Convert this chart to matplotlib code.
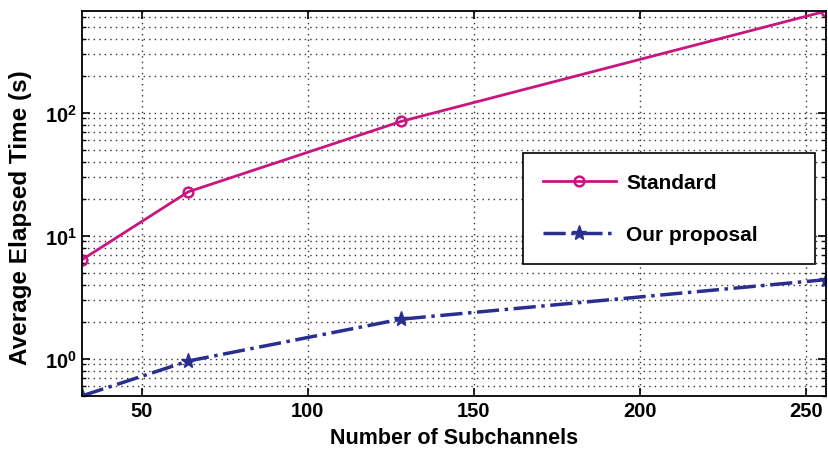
import numpy as np
import matplotlib
matplotlib.use('Agg')
import matplotlib.pyplot as plt
from matplotlib.ticker import LogLocator, NullFormatter

# data
subchannels = [32, 64, 128, 256]
standard = [6.4, 22.8, 85.0, 670.0]
proposal = [0.5, 0.96, 2.1, 4.4]

x_ticks = [50, 100, 150, 200, 250]

plt.rcParams['font.family'] = ['Liberation Sans', 'DejaVu Sans']
plt.rcParams['font.weight'] = 'bold'
plt.rcParams['axes.labelweight'] = 'bold'
plt.rcParams['mathtext.fontset'] = 'custom'
plt.rcParams['mathtext.rm'] = 'Liberation Sans:bold'
plt.rcParams['mathtext.it'] = 'Liberation Sans:bold'

fig = plt.figure(figsize=(8.29, 4.52), dpi=100)
ax = fig.add_axes([0.099, 0.122, 0.897, 0.851])

ax.plot(subchannels, standard, color='#C8157F', lw=2, marker='o', ms=7,
        mfc='none', mec='#C8157F', mew=1.8, label='Standard')
ax.plot(subchannels, proposal, color='#2A2F8F', lw=2.5, ls='-.', marker='*',
        ms=11, mfc='#2A2F8F', mec='#2A2F8F', label='Our proposal')

ax.set_yscale('log')
ax.set_xlim(32, 256)
ax.set_ylim(0.5, 670)
ax.set_xticks(x_ticks)
ax.yaxis.set_major_locator(LogLocator(base=10))
ax.yaxis.set_minor_locator(LogLocator(base=10, subs=np.arange(2, 10)))
ax.yaxis.set_minor_formatter(NullFormatter())

ax.grid(True, which='major', axis='x', color='#333333', ls=(0, (1, 3)), lw=1)
ax.grid(True, which='both', axis='y', color='#333333', ls=(0, (1, 3)), lw=1)

ax.tick_params(which='both', direction='in', top=True, right=True,
               labelsize=14.5)
ax.tick_params(which='major', length=6, width=1.2)
ax.tick_params(which='minor', length=3, width=1)
for s in ax.spines.values():
    s.set_linewidth(1.3)

ax.set_xlabel('Number of Subchannels', fontsize=15.5, labelpad=5)
ax.set_ylabel('Average Elapsed Time (s)', fontsize=17.5)
ax.yaxis.set_label_coords(-0.068, 0.465)

leg = ax.legend(loc='lower left', bbox_to_anchor=(0.593, 0.343, 0.392, 0.286),
                mode='expand', borderaxespad=0, fontsize=15, fancybox=False,
                framealpha=1, edgecolor='black', handlelength=3.5,
                handletextpad=0.5, labelspacing=1.6, borderpad=0.95)
leg.get_frame().set_linewidth(1.2)

fig.savefig('out.png', dpi=100)
